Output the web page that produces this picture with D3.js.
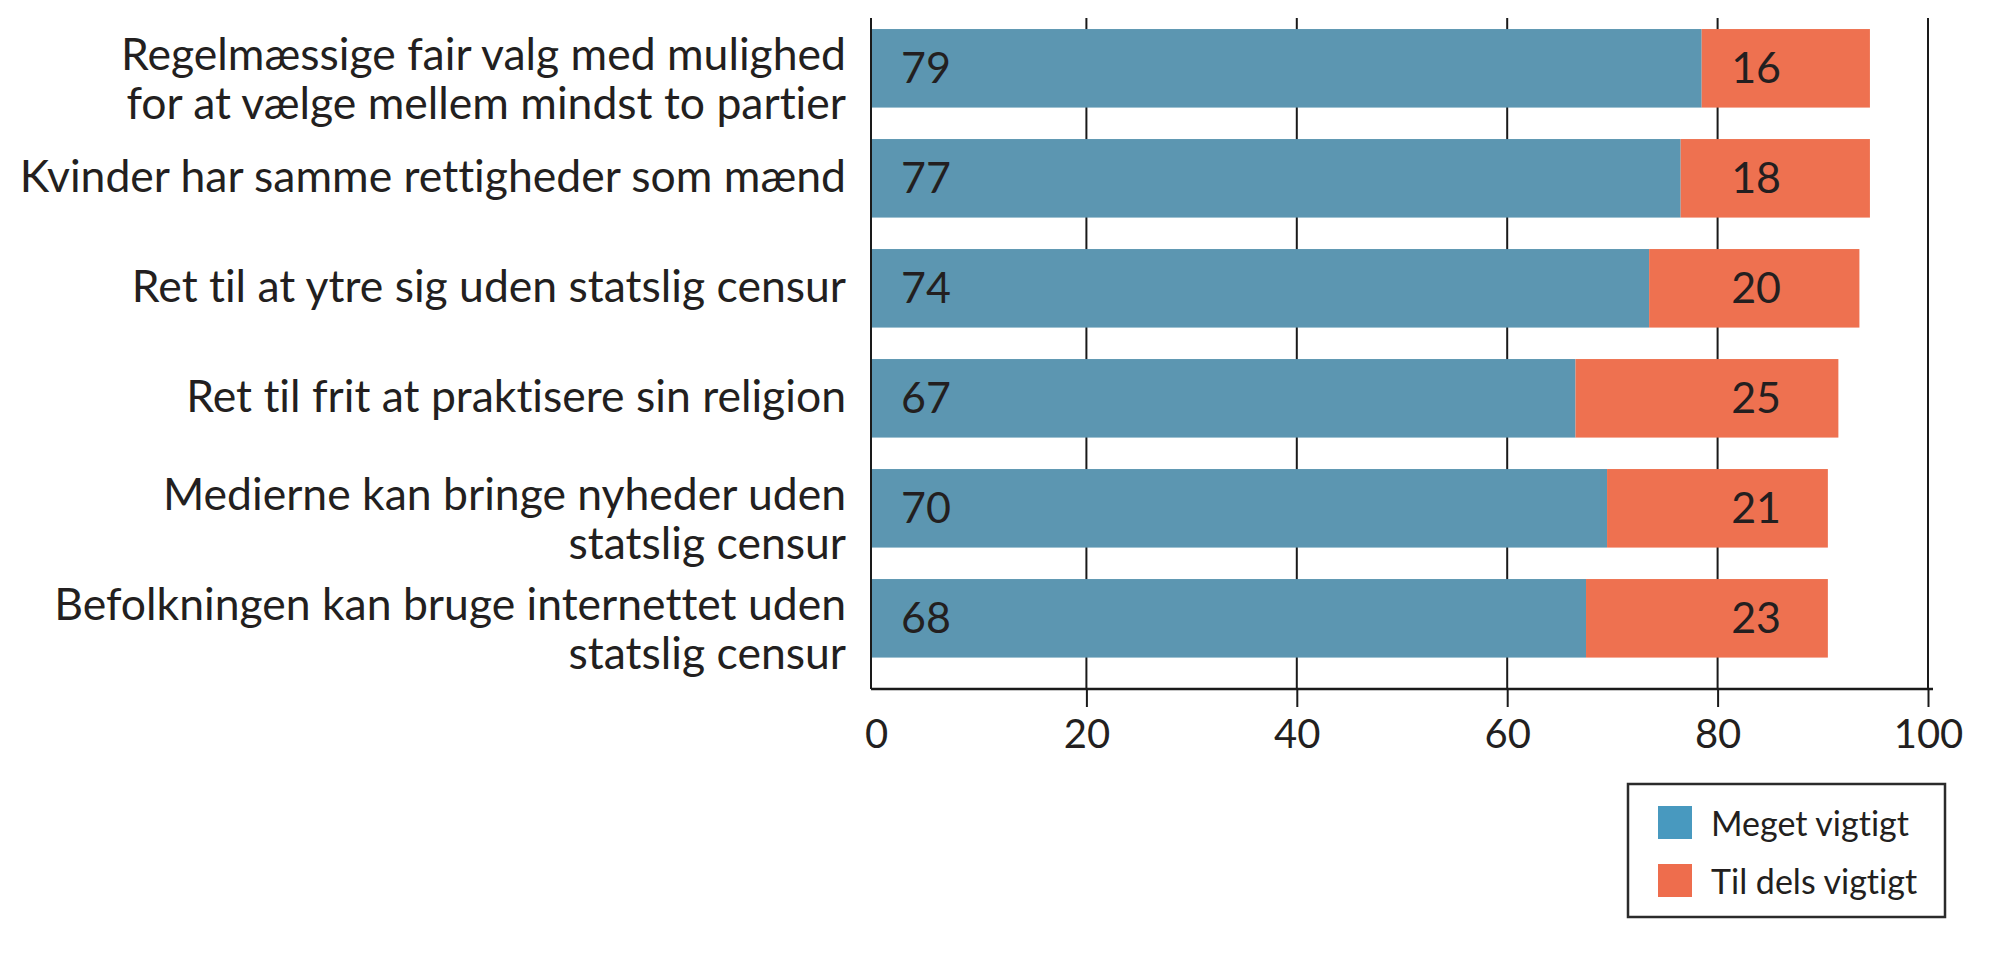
<!DOCTYPE html>
<html lang="da">
<head>
    <meta charset="UTF-8">
    <title>Vigtighed af demokratiske rettigheder</title>
    <script src="https://d3js.org/d3.v7.min.js"></script>
    <style>
        body { margin: 0; background: #fff; }
        text { font-family: Lato, "Open Sans", sans-serif; fill: #231f20; font-variant-ligatures: none; }
        .cat { font-size: 44.5px; }
        .val { font-size: 43px; }
        .tick text { font-size: 40px; font-family: Lato, "Open Sans", sans-serif; fill: #231f20; }
        .legend text { font-size: 34px; }
    </style>
</head>
<body>
<svg id="chart" width="2000" height="967"></svg>

<script>
    // data (percent)
    const categories = [
        ["Regelmæssige fair valg med mulighed", "for at vælge mellem mindst to partier"],
        ["Kvinder har samme rettigheder som mænd"],
        ["Ret til at ytre sig uden statslig censur"],
        ["Ret til frit at praktisere sin religion"],
        ["Medierne kan bringe nyheder uden", "statslig censur"],
        ["Befolkningen kan bruge internettet uden", "statslig censur"]
    ];
    const meget = [79, 77, 74, 67, 70, 68];
    const tilDels = [16, 18, 20, 25, 21, 23];
    const seriesNames = ["Meget vigtigt", "Til dels vigtigt"];
    const xTicks = [0, 20, 40, 60, 80, 100];

    const barColors = ["#5c96b1", "#ee7150"];
    const legendColors = ["#4899bf", "#ee6d4d"];

    const data = categories.map((lines, i) => ({
        key: i,
        lines: lines,
        a: meget[i],
        b: tilDels[i]
    }));

    const svg = d3.select("#chart");

    const plotTop = 18, baseY = 689;

    // bars and the grid sit a few pixels apart in the original
    const x = d3.scaleLinear().domain([0, 100]).range([871, 1922.5]);
    const xAxis = d3.scaleLinear().domain([0, 100]).range([876, 1928]);

    const y = d3.scaleBand()
        .domain(data.map(d => d.key))
        .range([plotTop, baseY])
        .paddingInner(0.286)
        .paddingOuter(0.193)
        .align(0.26);

    // grid lines
    svg.append("g")
        .selectAll("line")
        .data(xTicks.filter(t => t > 0))
        .join("line")
        .attr("x1", d => xAxis(d)).attr("x2", d => xAxis(d))
        .attr("y1", plotTop).attr("y2", baseY)
        .attr("stroke", "#1a1a1a")
        .attr("stroke-width", 2);

    // bottom axis with ticks and labels
    const axis = svg.append("g")
        .attr("transform", `translate(0,${baseY})`)
        .call(d3.axisBottom(xAxis).tickValues(xTicks).tickSize(18).tickPadding(13));
    axis.select(".domain").remove();
    axis.selectAll(".tick line").attr("stroke", "#1a1a1a").attr("stroke-width", 2)
        .filter(d => d === 0).remove();

    // bars
    const rows = svg.append("g").selectAll("g")
        .data(data)
        .join("g");

    rows.append("rect")
        .attr("x", x(0))
        .attr("y", d => y(d.key))
        .attr("width", d => x(d.a) - x(0))
        .attr("height", y.bandwidth())
        .attr("fill", barColors[0]);

    rows.append("rect")
        .attr("x", d => x(d.a))
        .attr("y", d => y(d.key))
        .attr("width", d => x(d.a + d.b) - x(d.a))
        .attr("height", y.bandwidth())
        .attr("fill", barColors[1]);

    const mid = d => y(d.key) + y.bandwidth() / 2;

    rows.append("text")
        .attr("class", "val")
        .attr("x", x(0) + 30)
        .attr("y", d => mid(d) + 15)
        .text(d => d.a);

    rows.append("text")
        .attr("class", "val")
        .attr("x", x(81.8))
        .attr("y", d => mid(d) + 15)
        .text(d => d.b);

    // category labels, right aligned; two-line labels hang a little low
    const lineH = 48.5;
    rows.append("text")
        .attr("class", "cat")
        .attr("text-anchor", "end")
        .selectAll("tspan")
        .data(d => d.lines.map((t, j) => ({ t, j, n: d.lines.length, c: mid(d) })))
        .join("tspan")
        .attr("x", 846)
        .attr("y", l => l.c + 14 + (l.n > 1 ? 12 : 0) + (l.j - (l.n - 1) / 2) * lineH)
        .text(l => l.t);

    // axis frame: left line and baseline
    svg.append("line")
        .attr("x1", x(0)).attr("x2", x(0))
        .attr("y1", plotTop).attr("y2", baseY)
        .attr("stroke", "#1a1a1a").attr("stroke-width", 2);
    svg.append("line")
        .attr("x1", x(0)).attr("x2", xAxis(100) + 5)
        .attr("y1", baseY).attr("y2", baseY)
        .attr("stroke", "#1a1a1a").attr("stroke-width", 2.5);

    // legend
    const legend = svg.append("g").attr("class", "legend");
    legend.append("rect")
        .attr("x", 1628).attr("y", 784)
        .attr("width", 317).attr("height", 133)
        .attr("fill", "none")
        .attr("stroke", "#2b2b2b")
        .attr("stroke-width", 2.5);

    const items = legend.selectAll("g.item")
        .data(seriesNames)
        .join("g")
        .attr("class", "item")
        .attr("transform", (d, i) => `translate(1658,${806 + i * 58})`);

    items.append("rect")
        .attr("width", 34).attr("height", 33)
        .attr("fill", (d, i) => legendColors[i]);

    items.append("text")
        .attr("x", 53)
        .attr("y", 30)
        .text(d => d);
</script>
</body>
</html>
